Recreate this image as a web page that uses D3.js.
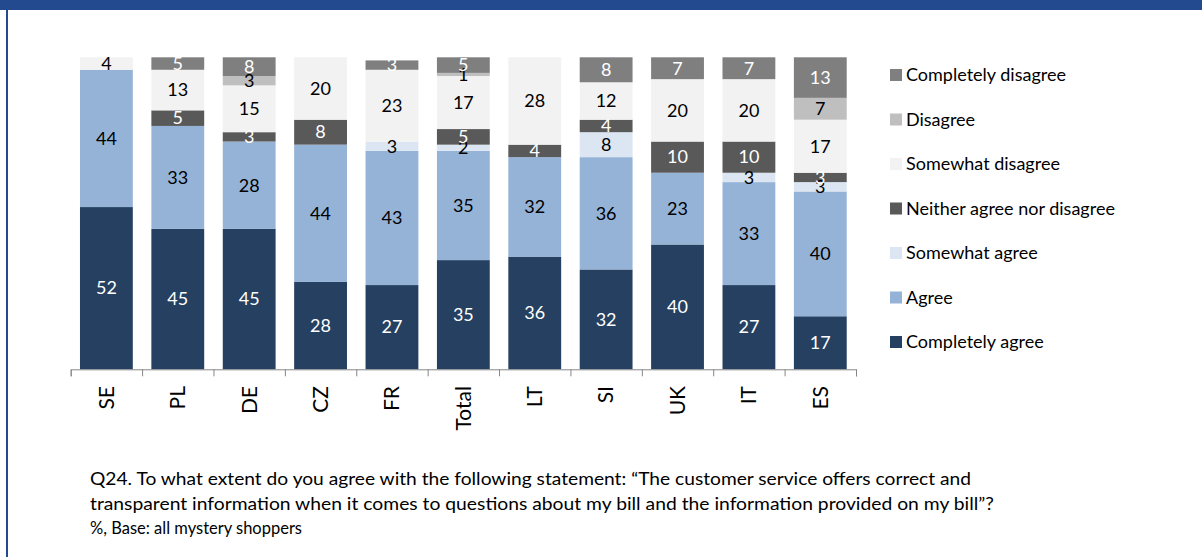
<!DOCTYPE html>
<html>
<head>
<meta charset="utf-8">
<script src="https://cdn.jsdelivr.net/npm/d3@7"></script>
<style>
  body { margin: 0; background: #fff; }
  text { font-family: Lato, "Open Sans", sans-serif; }
</style>
</head>
<body>
<div class="chart"></div>
<script>
var categories = ["SE", "PL", "DE", "CZ", "FR", "Total", "LT", "SI", "UK", "IT", "ES"];

// answer series, bottom of the stack first
var seriesNames = ["Completely agree", "Agree", "Somewhat agree", "Neither agree nor disagree",
  "Somewhat disagree", "Disagree", "Completely disagree"];

var completelyAgree    = [52, 45, 45, 28, 27, 35, 36, 32, 40, 27, 17];
var agree              = [44, 33, 28, 44, 43, 35, 32, 36, 23, 33, 40];
var somewhatAgree      = [0, 0, 0, 0, 3, 2, 0, 8, 0, 3, 3];
var neither            = [0, 5, 3, 8, 0, 5, 4, 4, 10, 10, 3];
var somewhatDisagree   = [4, 13, 15, 20, 23, 17, 28, 12, 20, 20, 17];
var disagree           = [0, 0, 3, 0, 0, 1, 0, 0, 0, 0, 7];
var completelyDisagree = [0, 5, 8, 0, 3, 5, 0, 8, 7, 7, 13];

var footnote = [
  "Q24. To what extent do you agree with the following statement: \u201cThe customer service offers correct and",
  "transparent information when it comes to questions about my bill and the information provided on my bill\u201d?",
  "%, Base: all mystery shoppers"
];

var seriesValues = [completelyAgree, agree, somewhatAgree, neither, somewhatDisagree, disagree, completelyDisagree];
var colors = ["#254061", "#95b3d7", "#dce6f2", "#595959", "#f2f2f2", "#bfbfbf", "#7f7f7f"];
var labelColors = ["#fff", "#000", "#000", "#fff", "#000", "#000", "#fff"];

var svgWidth = 1202;
var svgHeight = 557;

var svg = d3.select(".chart")
  .append("svg")
  .attr("width", svgWidth)
  .attr("height", svgHeight);

// frame: blue band on top, thin blue line on the left
svg.append("rect").attr("x", 0).attr("y", 0).attr("width", svgWidth).attr("height", 10).attr("fill", "#234a8e");
svg.append("rect").attr("x", 6).attr("y", 0).attr("width", 2).attr("height", svgHeight).attr("fill", "#234a8e");

// build rows for d3.stack
var rows = categories.map(function(c, i) {
  var row = { cat: c };
  seriesNames.forEach(function(s, k) { row[s] = seriesValues[k][i]; });
  return row;
});

var stacked = d3.stack().keys(seriesNames)(rows);

var x = d3.scaleBand()
  .domain(categories)
  .range([70.7, 856])
  .paddingInner(0.26)
  .paddingOuter(0.13);

var y = d3.scaleLinear()
  .domain([0, 100])
  .range([369.3, 57.3]);

var color = d3.scaleOrdinal().domain(seriesNames).range(colors);
var labelColor = d3.scaleOrdinal().domain(seriesNames).range(labelColors);

// axis stops at 100, anything above is cut off
var clip = function(v) { return Math.min(v, 100); };

var layers = svg.append("g")
  .selectAll("g")
  .data(stacked)
  .join("g")
    .attr("fill", function(d) { return color(d.key); });

layers.selectAll("rect")
  .data(function(d) { return d; })
  .join("rect")
    .attr("x", function(d) { return x(d.data.cat); })
    .attr("width", x.bandwidth())
    .attr("y", function(d) { return y(clip(d[1])); })
    .attr("height", function(d) { return Math.max(0, y(clip(d[0])) - y(clip(d[1]))); });

// value labels
svg.append("g")
  .selectAll("g")
  .data(stacked)
  .join("g")
    .attr("fill", function(d) { return labelColor(d.key); })
  .selectAll("text")
  .data(function(d) { return d.filter(function(p) { return p[1] - p[0] > 0; }); })
  .join("text")
    .attr("x", function(d) { return x(d.data.cat) + x.bandwidth() / 2; })
    .attr("y", function(d) { return (y(clip(d[0])) + y(clip(d[1]))) / 2; })
    .attr("dy", "0.35em")
    .attr("text-anchor", "middle")
    .style("font-size", "18px")
    .text(function(d) { return d[1] - d[0]; });

// axis line with ticks on the category boundaries
var edges = d3.scaleLinear().domain([0, categories.length]).range(x.range());
svg.append("g")
  .attr("transform", "translate(0," + y(0) + ")")
  .call(d3.axisBottom(edges).ticks(categories.length).tickSize(7).tickSizeOuter(7).tickFormat(""))
  .call(function(g) {
    g.select(".domain").attr("stroke", "#868686");
    g.selectAll(".tick line").attr("stroke", "#868686");
  });

// rotated category labels
svg.append("g")
  .selectAll("text")
  .data(categories)
  .join("text")
    .attr("transform", function(d) { return "translate(" + (x(d) + x.bandwidth() / 2) + ",386) rotate(-90)"; })
    .attr("dy", "0.35em")
    .attr("text-anchor", "end")
    .style("font-size", "21px")
    .attr("fill", "#000")
    .text(function(d) { return d; });

// legend, top entry is the top of the stack
var legend = svg.append("g")
  .selectAll("g")
  .data(seriesNames.slice().reverse())
  .join("g")
    .attr("transform", function(d, i) { return "translate(890," + (75 + i * 44.5) + ")"; });

legend.append("rect")
  .attr("x", 0).attr("y", -6)
  .attr("width", 12).attr("height", 12)
  .attr("fill", function(d) { return color(d); });

legend.append("text")
  .attr("x", 16)
  .attr("dy", "0.35em")
  .style("font-size", "18px")
  .attr("fill", "#000")
  .text(function(d) { return d; });

// question text
var noteWidths = [881, 904, 212];
svg.append("g")
  .selectAll("text")
  .data(footnote)
  .join("text")
    .attr("x", 90)
    .attr("y", function(d, i) { return 485 + i * 24.5; })
    .attr("textLength", function(d, i) { return noteWidths[i]; })
    .attr("lengthAdjust", "spacingAndGlyphs")
    .style("font-size", "17px")
    .attr("fill", "#000")
    .text(function(d) { return d; });
</script>
</body>
</html>
